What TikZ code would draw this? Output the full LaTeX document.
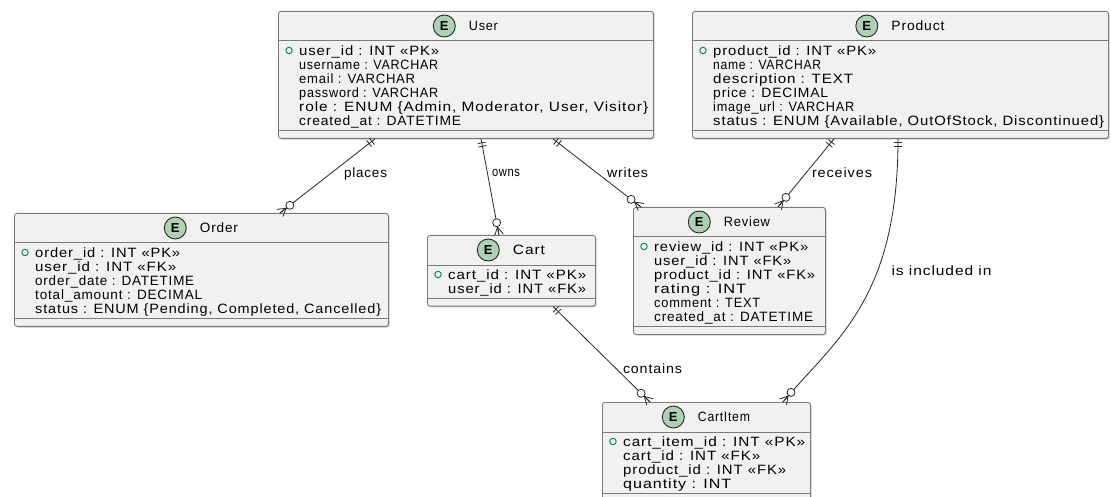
\documentclass[tikz,border=0pt]{standalone}
\usepackage{fontspec}
\usepackage{graphicx}
\setmainfont{Liberation Sans}[LetterSpace=6]
\newfontfamily\plainfont{Liberation Sans}
\usetikzlibrary{calc,positioning,shadows}

\definecolor{boxfill}{HTML}{F1F1F1}
\definecolor{boxline}{HTML}{7A7A7A}
\definecolor{entgreen}{HTML}{ADD1B2}
\definecolor{pkgreen}{HTML}{038048}
\definecolor{linkcol}{HTML}{262626}

% scale a piece of text horizontally to a given width (in pt)
\newlength\natw
\newcommand\fitto[2]{\settowidth\natw{#2}\pgfmathsetmacro\fitsc{#1/\natw}\scalebox{\fitsc}[1]{#2}}

% entity box: name, left, top, right, number of rows, title, title width
\newcommand\entity[7]{%
  \pgfmathsetmacro\entH{39.5+(#5-1)*14.1+17}%
  \pgfmathsetmacro\entW{#4-#2}%
  \node[entbox, anchor=north west, minimum width=\entW pt, minimum height=\entH pt] (#1) at (#2,#3) {};
  \draw[sepline] ([yshift=-30pt]#1.north west) -- ([yshift=-30pt]#1.north east);
  \draw[sepline] ([yshift=8pt]#1.south west) -- ([yshift=8pt]#1.south east);
  \node[ttl] (#1-title) at ([xshift=17.5pt,yshift=-15pt]#1.north) {\fitto{#7}{#6}};
  \node[ecirc, left=13pt of #1-title] (#1-e) {E};
  \node[pkdot] (#1-pk) at ([xshift=11pt,yshift=-39.5pt]#1.north west) {};
}
% attribute row: entity, row index, width, text
\newcommand\attr[4]{%
  \node[fldtext] (#1-r#2) at ([xshift=21pt,yshift={-(44.3+#2*14.1)}]#1.north west) {\fitto{#3}{#4}};
}
% "exactly one" end: two bars across the line
\newcommand\onemark[2]{%
  \draw[conn] ($(#1)!4pt!(#2)!4pt!90:(#2)$) -- ($(#1)!4pt!(#2)!4pt!-90:(#2)$);
  \draw[conn] ($(#1)!7.5pt!(#2)!4pt!90:(#2)$) -- ($(#1)!7.5pt!(#2)!4pt!-90:(#2)$);
}
% "zero or many" end: crow's foot and ring
\newcommand\manymark[2]{%
  \draw[conn] ($(#1)!8pt!(#2)$) -- (#1);
  \draw[conn] ($(#1)!8pt!(#2)$) -- ($(#1)!4.5pt!90:(#2)$);
  \draw[conn] ($(#1)!8pt!(#2)$) -- ($(#1)!4.5pt!-90:(#2)$);
  \draw[conn, fill=white] ($(#1)!12.5pt!(#2)$) circle[radius=4pt];
}

\begin{document}
\begin{tikzpicture}[x=1pt,y=-1pt,
  font=\fontsize{13.5}{16}\selectfont,
  entbox/.style={draw=boxline, fill=boxfill, line width=0.9pt, rounded corners=2.5pt, inner sep=0pt,
    drop shadow={shadow xshift=1.2pt, shadow yshift=-1.2pt, opacity=0.35, fill=black!60}},
  sepline/.style={draw=boxline, line width=1pt},
  ttl/.style={inner sep=0pt, anchor=center},
  ecirc/.style={circle, draw=linkcol, fill=entgreen, line width=0.9pt, minimum size=22pt, inner sep=0pt,
    font=\plainfont\fontsize{13}{13}\selectfont\bfseries},
  fldtext/.style={inner sep=0pt, anchor=base west},
  pkdot/.style={circle, draw=pkgreen, line width=0.9pt, minimum size=6.5pt, inner sep=0pt},
  conn/.style={draw=linkcol, line width=0.8pt},
  lbl/.style={inner sep=0pt, anchor=center},
]
\useasboundingbox[fill=white] (0,0) rectangle (1111,497);
\clip (0,0) rectangle (1111,497);

% ---- entities ----
\entity{user}{278}{11}{653}{6}{User}{29}
\attr{user}{0}{140}{user\_id : INT «PK»}
\attr{user}{1}{139}{username : VARCHAR}
\attr{user}{2}{116}{email : VARCHAR}
\attr{user}{3}{139}{password : VARCHAR}
\attr{user}{4}{349}{role : ENUM \{Admin, Moderator, User, Visitor\}}
\attr{user}{5}{162}{created\_at : DATETIME}

\entity{product}{692}{11}{1108}{6}{Product}{53}
\attr{product}{0}{163}{product\_id : INT «PK»}
\attr{product}{1}{108}{name : VARCHAR}
\attr{product}{2}{140}{description : TEXT}
\attr{product}{3}{115}{price : DECIMAL}
\attr{product}{4}{141}{image\_url : VARCHAR}
\attr{product}{5}{391}{status : ENUM \{Available, OutOfStock, Discontinued\}}

\entity{order}{14}{213}{388}{5}{Order}{38}
\attr{order}{0}{145}{order\_id : INT «PK»}
\attr{order}{1}{141}{user\_id : INT «FK»}
\attr{order}{2}{159}{order\_date : DATETIME}
\attr{order}{3}{167}{total\_amount : DECIMAL}
\attr{order}{4}{346}{status : ENUM \{Pending, Completed, Cancelled\}}

\entity{cart}{427}{235}{595}{2}{Cart}{32}
\attr{cart}{0}{138}{cart\_id : INT «PK»}
\attr{cart}{1}{138}{user\_id : INT «FK»}

\entity{review}{633}{207}{825}{6}{Review}{46}
\attr{review}{0}{154}{review\_id : INT «PK»}
\attr{review}{1}{137}{user\_id : INT «FK»}
\attr{review}{2}{161}{product\_id : INT «FK»}
\attr{review}{3}{92}{rating : INT}
\attr{review}{4}{106}{comment : TEXT}
\attr{review}{5}{159}{created\_at : DATETIME}

\entity{cartitem}{602}{402}{810}{4}{CartItem}{52}
\attr{cartitem}{0}{182}{cart\_item\_id : INT «PK»}
\attr{cartitem}{1}{137}{cart\_id : INT «FK»}
\attr{cartitem}{2}{163}{product\_id : INT «FK»}
\attr{cartitem}{3}{108}{quantity : INT}

% ---- relationships ----
\coordinate (places-a) at ([xshift=97pt]user.south west);
\coordinate (places-b) at ([xshift=266pt]order.north west);
\draw[conn] (places-a) -- (places-b);
\onemark{places-a}{places-b}
\manymark{places-b}{places-a}
\node[lbl] (places-l) at (365.5,174) {\fitto{43}{places}};

\coordinate (owns-a) at ([xshift=203pt]user.south west);
\coordinate (owns-b) at ([xshift=72pt]cart.north west);
\draw[conn] (owns-a) -- (owns-b);
\onemark{owns-a}{owns-b}
\manymark{owns-b}{owns-a}
\node[lbl] (owns-l) at (506,173) {\fitto{28}{owns}};

\coordinate (writes-a) at ([xshift=275pt]user.south west);
\coordinate (writes-b) at ([xshift=8pt]review.north west);
\draw[conn] (writes-a) -- (writes-b);
\onemark{writes-a}{writes-b}
\manymark{writes-b}{writes-a}
\node[lbl] (writes-l) at (627.5,173) {\fitto{41}{writes}};

\coordinate (recv-a) at ([xshift=142pt]product.south west);
\coordinate (recv-b) at ([xshift=145pt]review.north west);
\draw[conn] (recv-a) -- (recv-b);
\onemark{recv-a}{recv-b}
\manymark{recv-b}{recv-a}
\node[lbl] (recv-l) at (842,173) {\fitto{60}{receives}};

\coordinate (incl-a) at ([xshift=206pt]product.south west);
\coordinate (incl-b) at ([xshift=181pt]cartitem.north west);
\coordinate (incl-c1) at (898,300);
\coordinate (incl-c2) at (835,340);
\draw[conn] (incl-a) .. controls (incl-c1) and (incl-c2) .. (incl-b);
\onemark{incl-a}{incl-c1}
\manymark{incl-b}{incl-c2}
\node[lbl] (incl-l) at (941.5,271) {\fitto{100}{is included in}};

\coordinate (cont-a) at ([xshift=126pt]cart.south west);
\coordinate (cont-b) at ([xshift=48pt]cartitem.north west);
\draw[conn] (cont-a) -- (cont-b);
\onemark{cont-a}{cont-b}
\manymark{cont-b}{cont-a}
\node[lbl] (cont-l) at (652.5,369) {\fitto{59}{contains}};
\end{tikzpicture}
\end{document}
